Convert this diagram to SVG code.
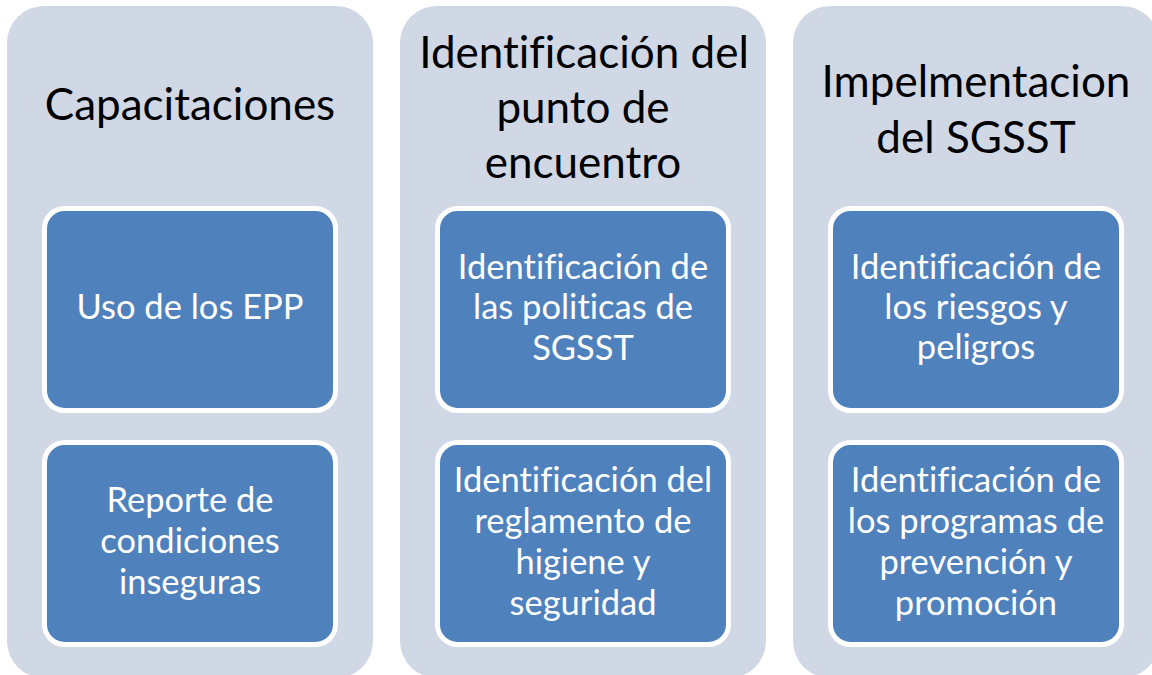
<svg xmlns="http://www.w3.org/2000/svg" width="1152" height="675" viewBox="0 0 1152 675">
<style>
.col{fill:#D0D7E5}
.box{fill:#4F81BD;stroke:#FFFFFF;stroke-width:5}
.title{font-family:Lato,"Liberation Sans",sans-serif;font-size:44px;fill:#000000;text-anchor:middle;font-variant-ligatures:none}
.lbl{font-family:Lato,"Liberation Sans",sans-serif;font-size:34.5px;fill:#FFFFFF;text-anchor:middle;font-variant-ligatures:none}
</style>
<rect width="1152" height="675" fill="#FFFFFF"/>
<g id="col1">
<rect class="col" x="7" y="6" width="366" height="672" rx="37" ry="37"/>
<text class="title" x="190" y="120">Capacitaciones</text>
</g>
<g id="col2">
<rect class="col" x="400" y="6" width="366" height="672" rx="37" ry="37"/>
<text class="title" x="584" y="68">Identificación del</text>
<text class="title" x="583" y="123">punto de</text>
<text class="title" x="583" y="178">encuentro</text>
</g>
<g id="col3">
<rect class="col" x="793" y="6" width="366" height="672" rx="37" ry="37"/>
<text class="title" x="976" y="97">Impelmentacion</text>
<text class="title" x="976" y="153">del SGSST</text>
</g>
<g id="box1a">
<rect class="box" x="44.5" y="208.5" width="291" height="202" rx="20" ry="20"/>
<text class="lbl" x="190" y="319">Uso de los EPP</text>
</g>
<g id="box1b">
<rect class="box" x="44.5" y="442.5" width="291" height="202" rx="20" ry="20"/>
<text class="lbl" x="190" y="512">Reporte de</text>
<text class="lbl" x="190" y="553">condiciones</text>
<text class="lbl" x="190" y="594">inseguras</text>
</g>
<g id="box2a">
<rect class="box" x="437.5" y="208.5" width="291" height="202" rx="20" ry="20"/>
<text class="lbl" x="583" y="279">Identificación de</text>
<text class="lbl" x="583" y="319">las politicas de</text>
<text class="lbl" x="583" y="360">SGSST</text>
</g>
<g id="box2b">
<rect class="box" x="437.5" y="442.5" width="291" height="202" rx="20" ry="20"/>
<text class="lbl" x="583" y="492">Identificación del</text>
<text class="lbl" x="583" y="533">reglamento de</text>
<text class="lbl" x="583" y="574">higiene y</text>
<text class="lbl" x="583" y="615">seguridad</text>
</g>
<g id="box3a">
<rect class="box" x="830.5" y="208.5" width="291" height="202" rx="20" ry="20"/>
<text class="lbl" x="976" y="279">Identificación de</text>
<text class="lbl" x="976" y="319">los riesgos y</text>
<text class="lbl" x="976" y="359">peligros</text>
</g>
<g id="box3b">
<rect class="box" x="830.5" y="442.5" width="291" height="202" rx="20" ry="20"/>
<text class="lbl" x="976" y="492">Identificación de</text>
<text class="lbl" x="976" y="533">los programas de</text>
<text class="lbl" x="976" y="574">prevención y</text>
<text class="lbl" x="976" y="615">promoción</text>
</g>
<g id="connectors"></g>
</svg>
